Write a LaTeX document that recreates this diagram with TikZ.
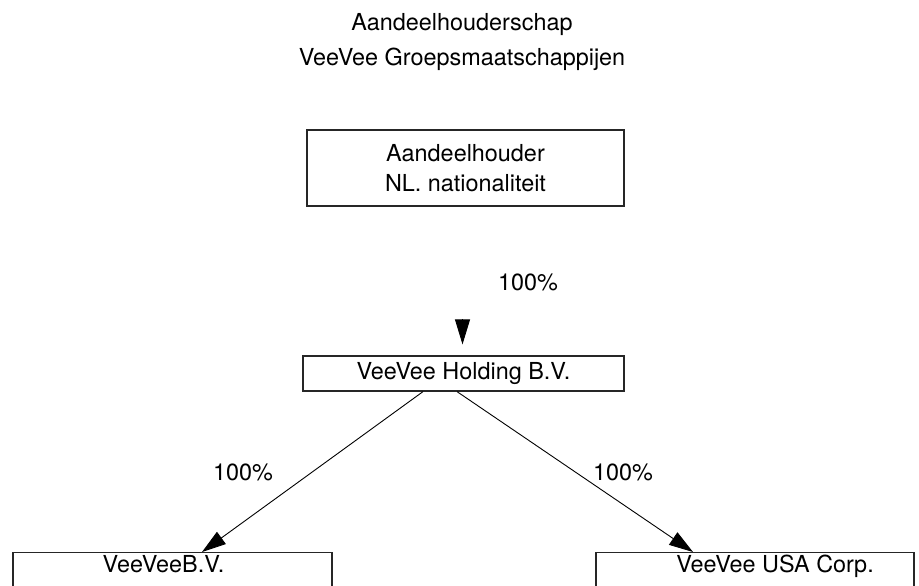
\documentclass[tikz,border=0pt]{standalone}
\usepackage{fontspec}
\setmainfont{TeX Gyre Heros}
\usetikzlibrary{arrows.meta}
\tikzset{
  orgbox/.style={draw=black!85, line width=0.6pt, inner sep=0pt, font=\fontsize{11.7pt}{15pt}\selectfont},
  lbl/.style={inner sep=0pt, font=\fontsize{11.7pt}{15pt}\selectfont},
  conn/.style={line width=0.45pt, -{Triangle[length=12pt,width=7.5pt]}},
}
\begin{document}
\begin{tikzpicture}[x=0.5pt,y=-0.5pt]
\useasboundingbox (0,0) rectangle (919,585);
\clip (0,0) rectangle (919,585);
\node[lbl, align=center, font=\fontsize{11.7pt}{17.5pt}\selectfont] (title) at (462,42.5)
  {Aandeelhouderschap\\VeeVee Groepsmaatschappijen};
\node[orgbox, align=center, minimum width=317*0.5pt, minimum height=76*0.5pt] (top) at (465.5,168)
  {Aandeelhouder\\NL. nationaliteit};
\node[orgbox, minimum width=321*0.5pt, minimum height=35*0.5pt] (hold) at (463.5,373.5)
  {VeeVee Holding B.V.};
\node[orgbox, anchor=north, minimum width=319*0.5pt, text height=9.7pt, text depth=25pt] (bv) at (172.5,552)
  {VeeVeeB.V.\hspace*{9pt}};
\node[orgbox, anchor=north, minimum width=318*0.5pt, text height=9.7pt, text depth=25pt] (usa) at (755,552)
  {\hspace*{20pt}VeeVee USA Corp.};
\node[lbl] (p0) at (528,282) {100\%};
\node[lbl] (p1) at (243,472) {100\%};
\node[lbl] (p2) at (623,472) {100\%};
\coordinate (ta) at ([xshift=-0.5pt,yshift=18pt]hold.north);
\coordinate (tb) at ([xshift=-0.5pt,yshift=5.5pt]hold.north);
\draw[conn, -{Triangle[length=12.5pt,width=7.5pt]}] (ta) -- (tb);
\draw[conn] ([xshift=-20.25pt]hold.south) -- ([xshift=14.75pt]bv.north);
\draw[conn] ([xshift=-3.25pt]hold.south) -- ([xshift=-31pt]usa.north);
\end{tikzpicture}
\end{document}
